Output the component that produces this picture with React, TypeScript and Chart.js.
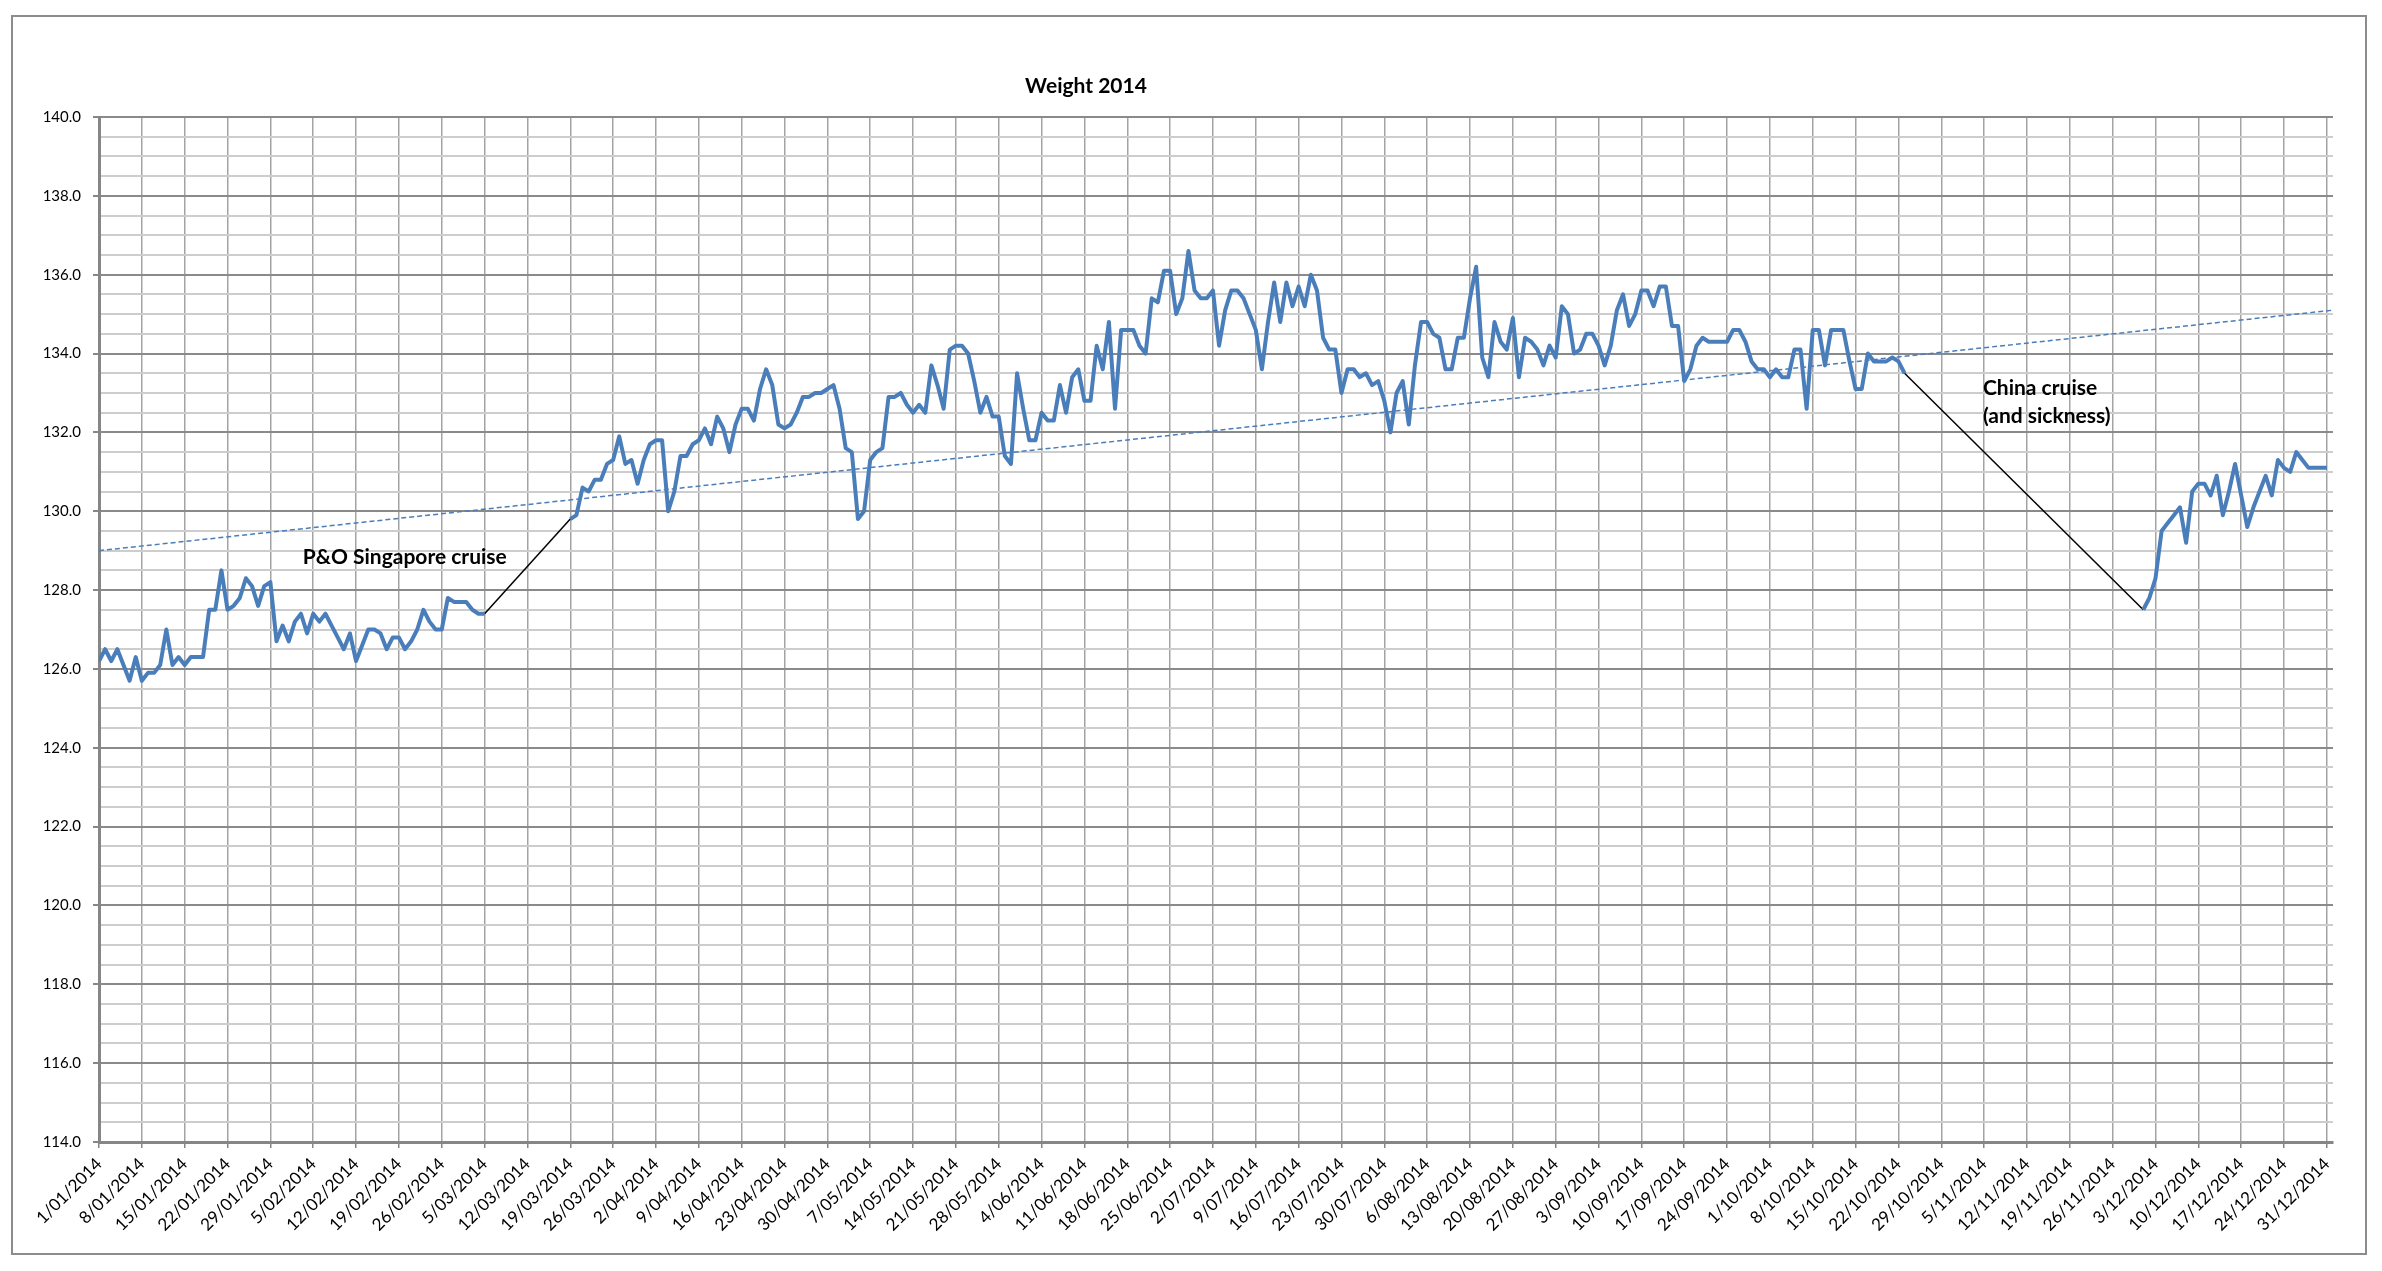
import React, { useEffect, useRef } from 'react';
import { Chart, registerables } from 'chart.js';

Chart.register(...registerables);

// ---------------- data ----------------
const YEAR = 2014;
const TITLE = 'Weight 2014';
const Y_MIN = 114;
const Y_MAX = 140;
const Y_MAJOR = 2;
const Y_MINOR = 0.5;
const TICK_STEP_DAYS = 7;
const AXIS_DAYS = 365;
const LAST_TICK_DAY = 364;

// Daily weight, 1 Jan – 5 Mar (day index 0..63)
const seg1Start = 0;
const seg1 = [
  126.2, 126.5, 126.2, 126.5, 126.1, 125.7, 126.3, 125.7, 125.9, 125.9,
  126.1, 127.0, 126.1, 126.3, 126.1, 126.3, 126.3, 126.3, 127.5, 127.5,
  128.5, 127.5, 127.6, 127.8, 128.3, 128.1, 127.6, 128.1, 128.2, 126.7,
  127.1, 126.7, 127.2, 127.4, 126.9, 127.4, 127.2, 127.4, 127.1, 126.8,
  126.5, 126.9, 126.2, 126.6, 127.0, 127.0, 126.9, 126.5, 126.8, 126.8,
  126.5, 126.7, 127.0, 127.5, 127.2, 127.0, 127.0, 127.8, 127.7, 127.7,
  127.7, 127.5, 127.4, 127.4,
];

// Daily weight, 19 Mar – 23 Oct (day index 77..295)
const seg2Start = 77;
const seg2 = [
  129.8, 129.9, 130.6, 130.5, 130.8, 130.8, 131.2, 131.3, 131.9, 131.2,
  131.3, 130.7, 131.3, 131.7, 131.8, 131.8, 130.0, 130.5, 131.4, 131.4,
  131.7, 131.8, 132.1, 131.7, 132.4, 132.1, 131.5, 132.2, 132.6, 132.6,
  132.3, 133.1, 133.6, 133.2, 132.2, 132.1, 132.2, 132.5, 132.9, 132.9,
  133.0, 133.0, 133.1, 133.2, 132.6, 131.6, 131.5, 129.8, 130.0, 131.3,
  131.5, 131.6, 132.9, 132.9, 133.0, 132.7, 132.5, 132.7, 132.5, 133.7,
  133.2, 132.6, 134.1, 134.2, 134.2, 134.0, 133.3, 132.5, 132.9, 132.4,
  132.4, 131.4, 131.2, 133.5, 132.6, 131.8, 131.8, 132.5, 132.3, 132.3,
  133.2, 132.5, 133.4, 133.6, 132.8, 132.8, 134.2, 133.6, 134.8, 132.6,
  134.6, 134.6, 134.6, 134.2, 134.0, 135.4, 135.3, 136.1, 136.1, 135.0,
  135.4, 136.6, 135.6, 135.4, 135.4, 135.6, 134.2, 135.1, 135.6, 135.6,
  135.4, 135.0, 134.6, 133.6, 134.8, 135.8, 134.8, 135.8, 135.2, 135.7,
  135.2, 136.0, 135.6, 134.4, 134.1, 134.1, 133.0, 133.6, 133.6, 133.4,
  133.5, 133.2, 133.3, 132.8, 132.0, 133.0, 133.3, 132.2, 133.7, 134.8,
  134.8, 134.5, 134.4, 133.6, 133.6, 134.4, 134.4, 135.4, 136.2, 133.9,
  133.4, 134.8, 134.3, 134.1, 134.9, 133.4, 134.4, 134.3, 134.1, 133.7,
  134.2, 133.9, 135.2, 135.0, 134.0, 134.1, 134.5, 134.5, 134.2, 133.7,
  134.2, 135.1, 135.5, 134.7, 135.0, 135.6, 135.6, 135.2, 135.7, 135.7,
  134.7, 134.7, 133.3, 133.6, 134.2, 134.4, 134.3, 134.3, 134.3, 134.3,
  134.6, 134.6, 134.3, 133.8, 133.6, 133.6, 133.4, 133.6, 133.4, 133.4,
  134.1, 134.1, 132.6, 134.6, 134.6, 133.7, 134.6, 134.6, 134.6, 133.8,
  133.1, 133.1, 134.0, 133.8, 133.8, 133.8, 133.9, 133.8, 133.5,
];

// Daily weight, 1 Dec – 31 Dec (day index 334..364)
const seg3Start = 334;
const seg3 = [
  127.5, 127.8, 128.3, 129.5, 129.7, 129.9, 130.1, 129.2, 130.5, 130.7,
  130.7, 130.4, 130.9, 129.9, 130.5, 131.2, 130.4, 129.6, 130.1, 130.5,
  130.9, 130.4, 131.3, 131.1, 131.0, 131.5, 131.3, 131.1, 131.1, 131.1,
  131.1,
];

// Linear trend line as drawn (start / end of year)
const trendDays = [0, AXIS_DAYS];
const trendValues = [129.0, 135.1];

const noteSingapore = 'P&O Singapore cruise';
const noteChina = ['China cruise', '(and sickness)'];

// ---------------- helpers ----------------
function dayLabel(d: number): string {
  const dt = new Date(Date.UTC(YEAR, 0, 1 + d));
  return `${dt.getUTCDate()}/${String(dt.getUTCMonth() + 1).padStart(2, '0')}/${dt.getUTCFullYear()}`;
}

function buildDaily() {
  const map = new Map<number, number>();
  [[seg1Start, seg1], [seg2Start, seg2], [seg3Start, seg3]].forEach(([s, arr]: any) => {
    (arr as number[]).forEach((v, i) => map.set((s as number) + i, v));
  });
  const pts: { x: number; y: number | null }[] = [];
  for (let d = 0; d <= LAST_TICK_DAY; d++) {
    pts.push({ x: d, y: map.has(d) ? (map.get(d) as number) : null });
  }
  return pts;
}

function connector(aStart: number, a: number[], bStart: number, b: number[]) {
  return [
    { x: aStart + a.length - 1, y: a[a.length - 1] },
    { x: bStart, y: b[0] },
  ];
}

const BLUE = '#4a7ebb';

const decorPlugin = {
  id: 'decor',
  beforeDraw(chart: any) {
    const { ctx, width, height } = chart;
    ctx.save();
    ctx.fillStyle = '#ffffff';
    ctx.fillRect(0, 0, width, height);
    ctx.restore();
  },
  afterDraw(chart: any) {
    const { ctx } = chart;
    const x = chart.scales.x;
    const y = chart.scales.y;
    ctx.save();
    // chart-area frame (Excel outer border)
    ctx.strokeStyle = '#8c8c8c';
    ctx.lineWidth = 2;
    ctx.strokeRect(12, 16, 2354, 1238);
    // title
    ctx.fillStyle = '#000';
    ctx.textBaseline = 'middle';
    ctx.textAlign = 'center';
    ctx.font = 'bold 21px Lato';
    ctx.fillText(TITLE, 1086, 86);
    // notes
    ctx.textAlign = 'left';
    ctx.font = 'bold 21px Lato';
    ctx.fillText(noteSingapore, x.getPixelForValue(33.3), y.getPixelForValue(128.83));
    ctx.fillText(noteChina[0], x.getPixelForValue(307.8), y.getPixelForValue(133.12));
    ctx.fillText(noteChina[1], x.getPixelForValue(307.8), y.getPixelForValue(132.4));
    ctx.restore();
  },
};

export default function App() {
  const ref = useRef<HTMLCanvasElement | null>(null);

  useEffect(() => {
    let chart: Chart | null = null;
    let cancelled = false;
    const make = () => {
      if (cancelled || !ref.current) return;
      Chart.defaults.font.family = 'Lato';
      const weekly: number[] = [];
      for (let d = 0; d <= LAST_TICK_DAY; d += TICK_STEP_DAYS) weekly.push(d);
      const yTicks: number[] = [];
      for (let v = Y_MIN; v <= Y_MAX + 1e-9; v += Y_MINOR) yTicks.push(Math.round(v * 10) / 10);
      const isMajor = (v: number) => Math.abs(v / Y_MAJOR - Math.round(v / Y_MAJOR)) < 1e-6;

      chart = new Chart(ref.current, {
        type: 'line',
        data: {
          datasets: [
            {
              label: 'Weight',
              data: buildDaily() as any,
              borderColor: BLUE,
              borderWidth: 4,
              pointRadius: 0,
              spanGaps: false,
              tension: 0,
              borderJoinStyle: 'round',
              order: 1,
            },
            {
              label: 'Trend',
              data: trendDays.map((d, i) => ({ x: d, y: trendValues[i] })) as any,
              borderColor: BLUE,
              borderWidth: 1.5,
              borderDash: [5, 3],
              pointRadius: 0,
              order: 2,
            },
            {
              label: 'Singapore cruise',
              data: connector(seg1Start, seg1, seg2Start, seg2) as any,
              borderColor: '#000',
              borderWidth: 1.5,
              pointRadius: 0,
              order: 3,
            },
            {
              label: 'China cruise',
              data: connector(seg2Start, seg2, seg3Start, seg3) as any,
              borderColor: '#000',
              borderWidth: 1.5,
              pointRadius: 0,
              order: 3,
            },
          ],
        },
        options: {
          animation: false,
          responsive: false,
          layout: { padding: { left: 0, top: 117, right: 49, bottom: 0 } },
          plugins: {
            legend: { display: false },
            title: { display: false },
            tooltip: { enabled: false },
          },
          scales: {
            x: {
              type: 'linear',
              min: 0,
              max: AXIS_DAYS,
              afterBuildTicks: (s: any) => {
                s.ticks = weekly.map((v) => ({ value: v }));
              },
              afterFit: (s: any) => {
                s.height = 129;
              },
              ticks: {
                autoSkip: false,
                minRotation: 45,
                maxRotation: 45,
                color: '#000',
                padding: 6,
                font: { family: 'Lato', size: 17 },
                callback: (v: any) => dayLabel(Number(v)),
              },
              grid: {
                color: '#a3a3a3',
                lineWidth: 1.5,
                tickLength: 6,
                tickColor: '#868686',
              },
              border: { display: true, color: '#868686', width: 3 },
            },
            y: {
              type: 'linear',
              min: Y_MIN,
              max: Y_MAX,
              afterBuildTicks: (s: any) => {
                s.ticks = yTicks.map((v) => ({ value: v }));
              },
              afterFit: (s: any) => {
                s.width = 99;
              },
              ticks: {
                autoSkip: false,
                color: '#000',
                padding: 12,
                font: { family: 'Lato', size: 15 },
                callback: (v: any) => (isMajor(Number(v)) ? Number(v).toFixed(1) : ''),
              },
              grid: {
                color: (c: any) => (isMajor(c.tick.value) ? '#8a8a8a' : '#cdcdcd'),
                lineWidth: 2,
                tickLength: 6,
                tickColor: (c: any) => (isMajor(c.tick.value) ? '#868686' : 'rgba(0,0,0,0)'),
              },
              border: { display: true, color: '#868686', width: 3 },
            },
          },
        },
        plugins: [decorPlugin],
      });
    };
    const fontsReady = (document as any).fonts
      ? Promise.all([
          (document as any).fonts.load('15px Lato'),
          (document as any).fonts.load('bold 21px Lato'),
        ]).catch(() => undefined)
      : Promise.resolve();
    fontsReady.then(make);
    return () => {
      cancelled = true;
      if (chart) chart.destroy();
    };
  }, []);

  return (
    <div style={{ position: 'absolute', left: 0, top: 0, width: 2382, height: 1271, background: '#fff' }}>
      <canvas ref={ref} width={2382} height={1271} style={{ display: 'block', width: 2382, height: 1271 }} />
    </div>
  );
}
